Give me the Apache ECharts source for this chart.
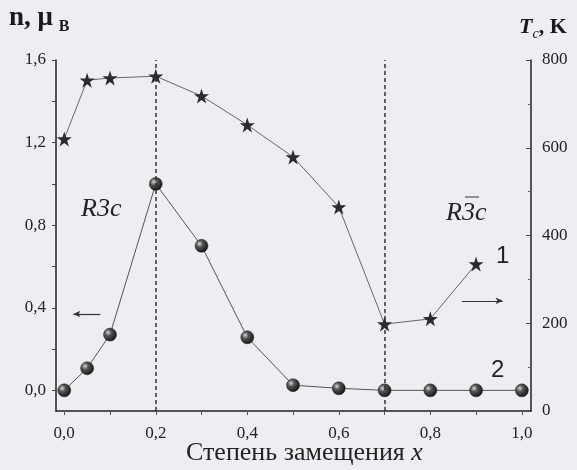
<!DOCTYPE html>
<html>
<head>
<meta charset="utf-8">
<script src="https://cdn.jsdelivr.net/npm/echarts@6/dist/echarts.min.js"></script>
<style>
html,body{margin:0;padding:0;background:#efedf2;}
#c{width:577px;height:470px;}
</style>
</head>
<body>
<div id="c"></div>
<script>
// Data
var xValues = [0, 0.05, 0.1, 0.2, 0.3, 0.4, 0.5, 0.6, 0.7, 0.8, 0.9, 1.0];
var tcX = [0, 0.05, 0.1, 0.2, 0.3, 0.4, 0.5, 0.6, 0.7, 0.8, 0.9];
var tcValues = [620, 754, 759, 763, 718, 652, 579, 465, 198, 210, 335];
var nValues = [0.0, 0.107, 0.27, 1.0, 0.70, 0.257, 0.025, 0.01, 0.0, 0.0, 0.0, 0.0];
var xTickLabels = [0, 0.2, 0.4, 0.6, 0.8, 1.0];
var xTicks = [0, 0.1, 0.2, 0.3, 0.4, 0.5, 0.6, 0.7, 0.8, 0.9, 1.0];
var nTickLabels = [0, 0.4, 0.8, 1.2, 1.6];
var nTicks = [0, 0.2, 0.4, 0.6, 0.8, 1.0, 1.2, 1.4, 1.6];
var phaseBoundaries = [0.2, 0.7];

var chart = echarts.init(document.getElementById('c'), null, {renderer: 'canvas'});
var serif = 'Liberation Serif';
var comma = function (v) { return v.toFixed(1).replace('.', ','); };
var starPath = 'path://M50,0 L61.8,35.4 L99,35.4 L69.1,57.3 L80.3,92.7 L50,70.8 L19.7,92.7 L30.9,57.3 L1,35.4 L38.2,35.4 Z';

var ball = new echarts.graphic.RadialGradient(0.35, 0.35, 0.7, [
  {offset: 0, color: '#d8d8d8'},
  {offset: 0.35, color: '#555'},
  {offset: 1, color: '#111'}
]);

var option = {
  backgroundColor: '#efedf2',
  animation: false,
  grid: {left: 56, right: 46, top: 60, bottom: 59},
  xAxis: {
    type: 'value', min: -0.018, max: 1.02,
    axisLine: {show: true, onZero: false, lineStyle: {color: '#222', width: 1.5}},
    axisTick: {show: true, customValues: xTicks, length: 4, lineStyle: {color: '#555'}},
    axisLabel: {customValues: xTickLabels, formatter: comma, fontFamily: serif, fontSize: 17, color: '#222', margin: 14},
    splitLine: {show: false}
  },
  yAxis: [
    {
      type: 'value', min: -0.1, max: 1.6, position: 'left',
      axisLine: {show: true, onZero: false, lineStyle: {color: '#222', width: 1.5}},
      axisTick: {show: true, customValues: nTicks, length: 4, lineStyle: {color: '#444'}},
      axisLabel: {customValues: nTickLabels, formatter: comma, fontFamily: serif, fontSize: 17, color: '#222', margin: 10},
      splitLine: {show: false}
    },
    {
      type: 'value', min: 0, max: 800, interval: 200, position: 'right',
      axisLine: {show: true, onZero: false, lineStyle: {color: '#222', width: 1.5}},
      axisTick: {show: true, inside: true, length: 5, lineStyle: {color: '#444'}},
      minorTick: {show: true, splitNumber: 2, length: 3, lineStyle: {color: '#666'}},
      axisLabel: {fontFamily: serif, fontSize: 17, color: '#222', margin: 11},
      splitLine: {show: false}
    }
  ],
  series: [
    {
      name: 'n', type: 'line', yAxisIndex: 0,
      data: xValues.map(function (x, i) { return [x, nValues[i]]; }),
      symbol: 'circle', symbolSize: 13,
      itemStyle: {color: ball, borderColor: '#222', borderWidth: 0.5},
      lineStyle: {color: '#555', width: 1},
      z: 3,
      markLine: {
        silent: true, animation: false,
        label: {show: false},
        data: [
          [{coord: [phaseBoundaries[0], -0.1], symbol: 'none'}, {coord: [phaseBoundaries[0], 1.6], symbol: 'none'}],
          [{coord: [phaseBoundaries[1], -0.1], symbol: 'none'}, {coord: [phaseBoundaries[1], 1.6], symbol: 'none'}],
          [{coord: [0.079, 0.37], symbol: 'none', lineStyle: {type: 'solid', width: 1.2, color: '#333'}},
           {coord: [0.02, 0.37], symbol: 'arrow', symbolSize: [5, 7], lineStyle: {type: 'solid', width: 1.2, color: '#333'}}]
        ],
        lineStyle: {type: [4, 3], color: '#333', width: 1.5}
      }
    },
    {
      name: 'Tc', type: 'line', yAxisIndex: 1,
      data: tcX.map(function (x, i) { return [x, tcValues[i]]; }),
      symbol: starPath, symbolSize: 15,
      itemStyle: {color: '#2a2a35'},
      lineStyle: {color: '#666', width: 1},
      z: 4,
      markLine: {
        silent: true, animation: false,
        label: {show: false},
        data: [
          [{coord: [0.869, 251], symbol: 'none'}, {coord: [0.958, 251], symbol: 'arrow', symbolSize: [5, 7]}]
        ],
        lineStyle: {type: 'solid', color: '#333', width: 1.2}
      }
    }
  ],
  graphic: [
    {type: 'text', left: 9, top: 5, style: {
      text: '{a|n, μ}{b|B}',
      rich: {
        a: {fontFamily: serif, fontWeight: 'bold', fontSize: 27, fill: '#1a1a1a'},
        b: {fontFamily: serif, fontWeight: 'bold', fontSize: 16, fill: '#1a1a1a', padding: [16, 0, 0, 6]}
      }
    }},
    {type: 'text', left: 519, top: 16, style: {
      text: '{t|T}{c|c}{k|, K}',
      rich: {
        t: {fontFamily: serif, fontWeight: 'bold', fontStyle: 'italic', fontSize: 22, fill: '#1a1a1a'},
        c: {fontFamily: serif, fontStyle: 'italic', fontSize: 14, fill: '#1a1a1a', padding: [14, 0, 0, 0]},
        k: {fontFamily: serif, fontWeight: 'bold', fontSize: 22, fill: '#1a1a1a'}
      }
    }},
    {type: 'text', left: 81, top: 196, style: {text: 'R3c', fontFamily: serif, fontStyle: 'italic', fontSize: 26, fill: '#222'}},
    {type: 'text', left: 446, top: 200, style: {text: 'R3c', fontFamily: serif, fontStyle: 'italic', fontSize: 26, fill: '#222'}},
    {type: 'line', shape: {x1: 465, y1: 197, x2: 479, y2: 197}, style: {stroke: '#333', lineWidth: 1}},
    {type: 'text', left: 496, top: 244, style: {text: '1', fontFamily: 'Liberation Sans', fontSize: 24, fill: '#222'}},
    {type: 'text', left: 491, top: 358, style: {text: '2', fontFamily: 'Liberation Sans', fontSize: 24, fill: '#222'}},
    {type: 'text', left: 186, top: 440, style: {
      text: '{a|Степень замещения }{b|x}',
      rich: {
        a: {fontFamily: serif, fontSize: 26, fill: '#222'},
        b: {fontFamily: serif, fontStyle: 'italic', fontSize: 26, fill: '#222'}
      }
    }}
  ]
};
chart.setOption(option);
</script>
</body>
</html>
